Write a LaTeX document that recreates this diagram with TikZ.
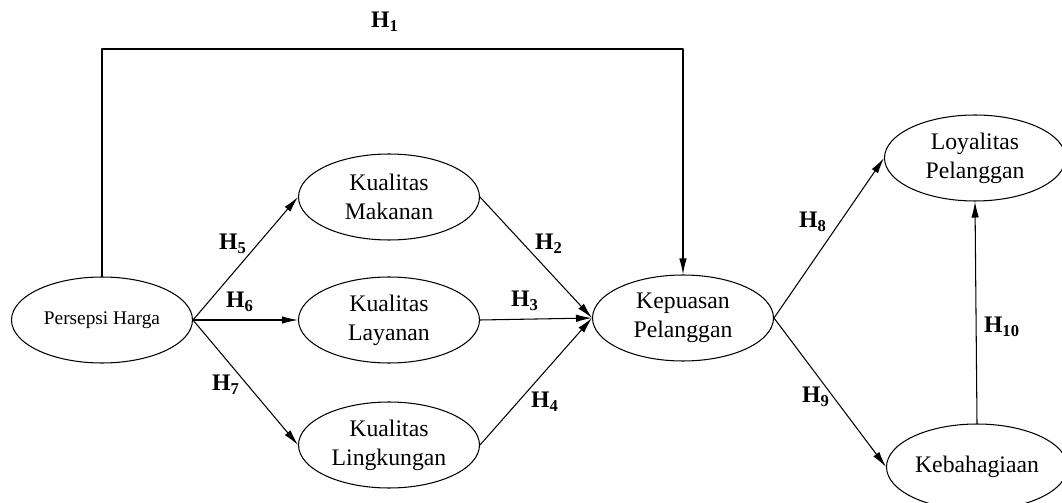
\documentclass[tikz,border=0pt]{standalone}
\usepackage{fontspec}
\setmainfont{Liberation Serif}
\usetikzlibrary{arrows.meta,shapes.geometric}

\tikzset{
  var/.style={draw, ellipse, minimum width=3.62cm, minimum height=1.72cm, align=center, inner sep=1pt, font=\fontsize{13.5}{16.5}\selectfont},
  hyp/.style={font=\fontsize{13.5}{15}\selectfont\bfseries}
}

\begin{document}
\begin{tikzpicture}[line cap=round,line join=round,>={Latex[length=3.2mm,width=1.5mm]},x=0.02cm,y=-0.02cm,semithick]
		\useasboundingbox (0,0) rectangle (1062,503);
		% variables
		\node[var,font=\fontsize{11}{13}\selectfont] (ph) at (102,320) {Persepsi Harga};
		\node[var] (km) at (389,197) {Kualitas\\Makanan};
		\node[var] (kl) at (389,320) {Kualitas\\Layanan};
		\node[var] (kg) at (389,445) {Kualitas\\Lingkungan};
		\node[var] (kp) at (683,318) {Kepuasan\\Pelanggan};
		\node[var] (lp) at (975,158) {Loyalitas\\Pelanggan};
		\node[var] (kb) at (977,467) {Kebahagiaan};
		% chemin du haut
		\coordinate (t1) at (102,49);
		\coordinate (t2) at (683,49);
		\draw[->] (ph.north) -- (t1) -- (t2) -- (kp.north);
		% fleches
		\draw[->] (ph.east) -- (km.west);
		\draw[->] (ph.east) -- (kl.west);
		\draw[->] (ph.east) -- (kg.west);
		\draw[->] (km.east) -- (kp.west);
		\draw[->] (kl.east) -- (kp.west);
		\draw[->] (kg.east) -- (kp.west);
		\draw[->] (kp.east) -- (lp.west);
		\draw[->] (kp.east) -- (kb.west);
		\draw[->] (kb.north) -- (lp.south);
		% hypotheses
		\node[hyp] (h1) at (385,22) {H\textsubscript{1}};
		\node[hyp] (h2) at (549,244) {H\textsubscript{2}};
		\node[hyp] (h3) at (525,301) {H\textsubscript{3}};
		\node[hyp] (h4) at (545,402) {H\textsubscript{4}};
		\node[hyp] (h5) at (233,244) {H\textsubscript{5}};
		\node[hyp] (h6) at (240,302) {H\textsubscript{6}};
		\node[hyp] (h7) at (226,385) {H\textsubscript{7}};
		\node[hyp] (h8) at (813,222) {H\textsubscript{8}};
		\node[hyp] (h9) at (816,397) {H\textsubscript{9}};
		\node[hyp] (h10) at (1002,327) {H\textsubscript{10}};
\end{tikzpicture}
\end{document}
